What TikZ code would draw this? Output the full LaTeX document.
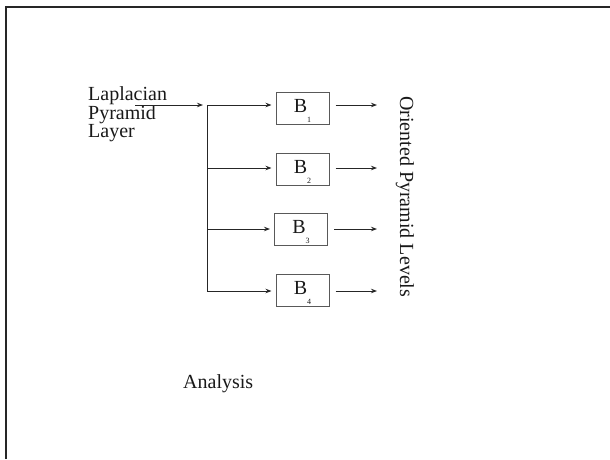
\documentclass[tikz,border=0pt]{standalone}
\usepackage{fontspec}
\setmainfont{Liberation Serif}
\usetikzlibrary{arrows.meta}

\tikzset{
  frameline/.style={line width=2.4pt, draw=black!85},
  wire/.style={line width=0.9pt, draw=black!85},
  arrowwire/.style={wire, -{Stealth[length=6pt,width=4.5pt]}},
  filterbox/.style={draw=black!65, line width=1pt, minimum width=53pt,
    minimum height=32pt, inner sep=0pt, text height=8pt, text depth=0pt,
    font=\fontsize{20}{20}\selectfont, text=black!90},
  caption/.style={inner sep=0pt, font=\fontsize{20}{18}\selectfont, text=black!90},
}

\newcommand{\bandlabel}[1]{B\raisebox{-10pt}{\fontsize{8}{8}\selectfont #1}}

\begin{document}
\begin{tikzpicture}[x=1pt,y=-1pt]
  \useasboundingbox (0,0) rectangle (610,459);

  % page frame (left and top edges)
  \draw[frameline] (6,459) -- (6,7) -- (610,7);

  % input label, three lines set tightly
  \node[caption, align=left, anchor=north west] (lap) at (88,86.3)
    {Laplacian\\Pyramid\\Layer};

  % input arrow and distribution trunk
  \coordinate (inL) at (135,105);
  \coordinate (inR) at (203,105);
  \draw[arrowwire] (inL) -- (inR);

  \coordinate (t1) at (207,105);
  \coordinate (t2) at (207,168);
  \coordinate (t3) at (207,229);
  \coordinate (t4) at (207,291);
  \draw[wire] (t1) -- (t4);

  % oriented band filters
  \node[filterbox] (b1) at (302.5,108) {\bandlabel{1}};
  \node[filterbox] (b2) at (302.5,169) {\bandlabel{2}};
  \node[filterbox] (b3) at (301,229.5) {\bandlabel{3}};
  \node[filterbox] (b4) at (302.5,290.5) {\bandlabel{4}};

  \foreach \i/\y in {1/105,2/168,3/229,4/291}{
    \draw[arrowwire, shorten >=4pt] (t\i) -- (b\i.west |- t\i);
    \coordinate (o\i) at (377,\y);
    \draw[arrowwire, shorten <=6pt] (b\i.east |- o\i) -- (o\i);
  }

  % output label
  \node[caption, rotate=-90, anchor=base west] (levels) at (400,96)
    {Oriented Pyramid Levels};

  % caption
  \node[caption, anchor=base west] (analysis) at (183,388) {Analysis};
\end{tikzpicture}
\end{document}
